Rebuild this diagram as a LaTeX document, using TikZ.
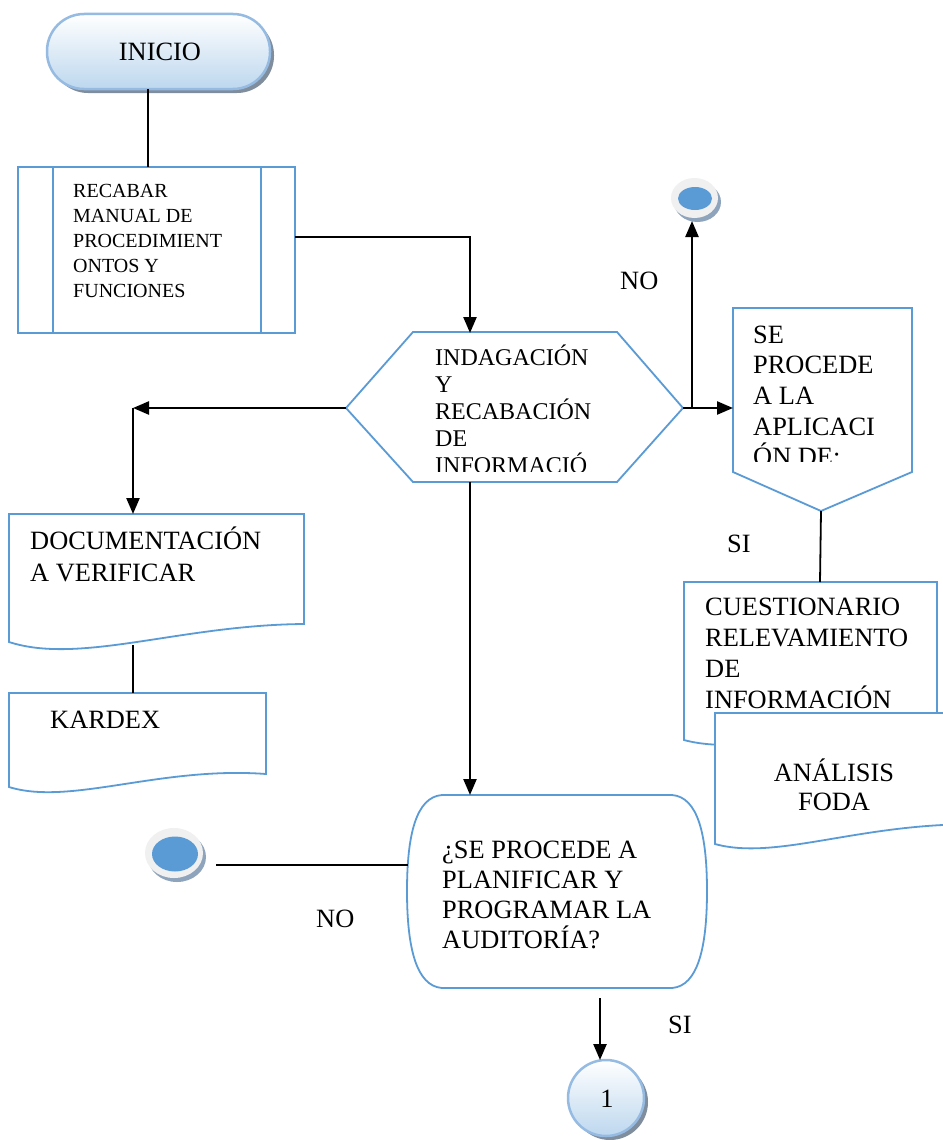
\documentclass[tikz,border=0pt]{standalone}
\usepackage{fontspec}
\setmainfont{Liberation Serif}
\usetikzlibrary{arrows.meta}
\definecolor{shapeblue}{HTML}{5B9BD5}
\definecolor{lightborder}{HTML}{95BBE3}
\definecolor{gradbottom}{HTML}{BDD7EE}
\definecolor{shadowgray}{HTML}{7F8D9C}
\definecolor{ringgray}{HTML}{F0F0F0}
\definecolor{ringshadow}{HTML}{8DA4BC}
\begin{document}
\begin{tikzpicture}[x=1pt,y=-1pt,
  box/.style={draw=shapeblue,line width=1.8pt,fill=white},
  conn/.style={line width=2.4pt,-{Triangle[length=16pt,width=13pt]}},
  plain/.style={line width=1.8pt},
  txt/.style={inner sep=0pt,anchor=base west,font=\fontsize{26.4}{30}\selectfont},
  smalltxt/.style={txt,font=\fontsize{20}{24}\selectfont},
  hextxt/.style={txt,font=\fontsize{24}{28}\selectfont},
  glossy/.style={top color=white,bottom color=gradbottom,draw=lightborder,line width=2.5pt},
  shadowfill/.style={fill=shadowgray}
]
\useasboundingbox[fill=white] (0,0) rectangle (942,1140);

% ---------- INICIO terminal ----------
\fill[shadowfill,rounded corners=37pt] (51,18) rectangle (274,93);
\shadedraw[glossy,rounded corners=37pt] (47,14) rectangle (270,89);
\node[inner sep=0pt,font=\fontsize{26.4}{30}\selectfont] (inicio) at (160,52) {INICIO};
\coordinate (inicioS) at (148,89);

% ---------- predefined process ----------
\draw[box] (18,167) rectangle (295,333);
\draw[shapeblue,line width=1.8pt] (53,167) -- (53,333) (261,167) -- (261,333);
\foreach \t [count=\i] in {RECABAR,MANUAL DE,PROCEDIMIENT,ONTOS Y,FUNCIONES}
  \node[smalltxt] (proc\i) at (73,{197+(\i-1)*25}) {\t};
\coordinate (procN) at (148,167);
\coordinate (procE) at (295,237);

% ---------- hexagon ----------
\draw[box] (346,408) -- (413,332) -- (617,332) -- (683,408) -- (617,482) -- (413,482) -- cycle;
\begin{scope}
  \clip (346,332) rectangle (683,471);
  \foreach \t [count=\i] in {INDAGACIÓN,Y,RECABACIÓN,DE,INFORMACIÓ}
    \node[hextxt] (hex\i) at (435,{365+(\i-1)*27}) {\t};
\end{scope}
\coordinate (hexN) at (470,333);
\coordinate (hexW) at (346,408);
\coordinate (hexE) at (683,408);
\coordinate (hexS) at (470,482);
\coordinate (cornL) at (133,408);
\coordinate (split) at (692,408);

% ---------- documents left ----------
\draw[box] (9,642) -- (9,514) -- (304,514) -- (304,624) .. controls (180,625) and (80,665) .. (9,642) -- cycle;
\node[txt] (doc1) at (30,549) {DOCUMENTACIÓN};
\node[txt] (doc2) at (30,581) {A VERIFICAR};
\coordinate (docN) at (133,514);
\coordinate (docS) at (133,645);

\draw[box] (9,787) -- (9,693) -- (266,693) -- (266,774) .. controls (160,766) and (70,806) .. (9,787) -- cycle;
\node[txt] (kardex) at (50,728) {KARDEX};
\coordinate (karN) at (133,693);

% ---------- pentagon (off-page) ----------
\draw[box] (733,308) -- (912,308) -- (912,472) -- (821,511) -- (733,472) -- cycle;
\begin{scope}
  \clip (733,308) rectangle (912,461);
  \foreach \t [count=\i] in {SE,PROCEDE,A LA,APLICACI,ÓN DE:}
    \node[txt] (pent\i) at (753,{343+(\i-1)*30.7}) {\t};
\end{scope}
\coordinate (pentW) at (733,408);
\coordinate (pentS) at (821,511);

% ---------- documents right ----------
\draw[box] (684,740) -- (684,582) -- (937,582) -- (937,725) .. controls (850,720) and (750,758) .. (684,740) -- cycle;
\foreach \t [count=\i] in {CUESTIONARIO,RELEVAMIENTO,DE,INFORMACIÓN}
  \node[txt] (cues\i) at (705,{615+(\i-1)*31}) {\t};
\coordinate (cuesN) at (820,582);

\draw[box] (715,844) -- (715,713) -- (1000,713) -- (1000,825) .. controls (870,818) and (780,862) .. (715,844) -- cycle;
\node[txt,anchor=base] (foda1) at (834,781) {ANÁLISIS};
\node[txt,anchor=base] (foda2) at (834,810) {FODA};

% ---------- decision bottom ----------
\draw[draw=shapeblue,line width=1.8pt,fill=white]
  (442,795) -- (672,795)
  .. controls (698,797) and (707,835) .. (707,891)
  .. controls (707,947) and (698,986) .. (672,988)
  -- (442,988)
  .. controls (416,986) and (407,947) .. (407,891)
  .. controls (407,835) and (416,797) .. (442,795) -- cycle;
\foreach \t [count=\i] in {¿SE PROCEDE A,PLANIFICAR Y,PROGRAMAR LA,AUDITORÍA?}
  \node[txt] (dec\i) at (442,{858+(\i-1)*30.3}) {\t};
\coordinate (decN) at (470,795);
\coordinate (decW) at (408,865);
\coordinate (decS) at (600,998);

% ---------- end markers ----------
\fill[ringshadow] (697.5,202) ellipse [x radius=23.5pt, y radius=20pt];
\fill[ringgray] (694.5,198) ellipse [x radius=23.5pt, y radius=20pt];
\fill[shapeblue] (695,198.5) ellipse [x radius=17pt, y radius=11.5pt];
\coordinate (endTopS) at (692,221);

\fill[ringshadow] (177,857) ellipse [x radius=29pt, y radius=25pt];
\fill[ringgray] (174,853) ellipse [x radius=29pt, y radius=25pt];
\fill[shapeblue] (175,854) ellipse [x radius=23pt, y radius=17.5pt];
\coordinate (endLeftE) at (216,865);

% ---------- connector 1 ----------
\fill[shadowfill] (610,1102) circle [radius=38pt];
\shadedraw[glossy] (606,1098) circle [radius=38pt];
\node[inner sep=0pt,font=\fontsize{26.4}{30}\selectfont] (one) at (607,1099) {1};
\coordinate (oneN) at (600,1060);

% ---------- connectors ----------
\draw[plain] (inicioS) -- (procN);
\draw[conn] (procE) -| (hexN);
\draw[conn] (hexW) -- (cornL);
\draw[conn] (cornL) -- (docN);
\draw[plain] (docS) -- (karN);
\draw[conn] (hexS) -- (decN);
\draw[conn] (hexE) -- (pentW);
\draw[conn] (split) -- (endTopS);
\draw[plain] (pentS) -- (cuesN);
\draw[plain] (decW) -- (endLeftE);
\draw[conn] (decS) -- (oneN);

% ---------- labels ----------
\node[txt] (noTop) at (620,289) {NO};
\node[txt] (siMid) at (727,552) {SI};
\node[txt] (noBot) at (316,927) {NO};
\node[txt] (siBot) at (668,1033) {SI};
\end{tikzpicture}
\end{document}
